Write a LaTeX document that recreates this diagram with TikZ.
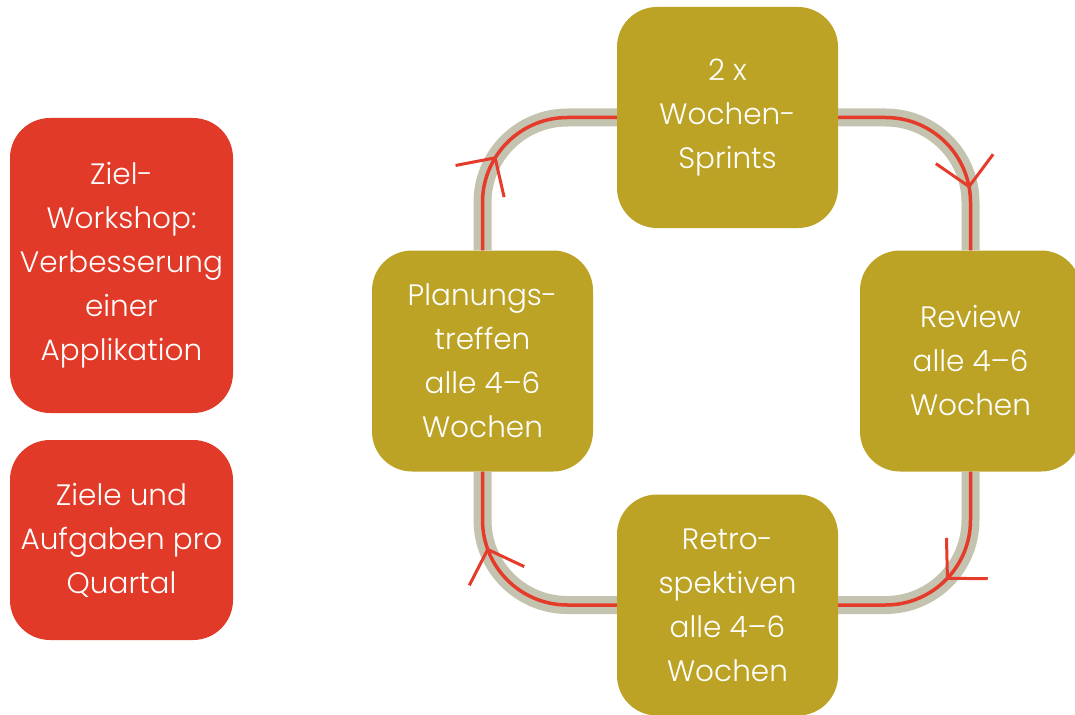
\documentclass[tikz,border=0pt]{standalone}
\usepackage{fontspec}
\setmainfont{Poppins Light}
\usepackage{tikz}
\usetikzlibrary{arrows.meta, decorations.markings}
\definecolor{GoalRed}{RGB}{226,58,40}
\definecolor{Olive}{RGB}{188,163,38}
\definecolor{TrackGrey}{RGB}{196,195,176}
\definecolor{LineRed}{RGB}{229,59,42}

\begin{document}
\begin{tikzpicture}[
  x=1pt, y=-1pt,
  font=\fontsize{29.5}{44}\selectfont,
  box/.style={rounded corners=40pt, draw=none, text=white, align=center, inner sep=0pt},
  goal/.style={box, fill=GoalRed, minimum width=223pt},
  stage/.style={box, fill=Olive, minimum width=221pt, minimum height=221pt},
  track/.style={draw=TrackGrey, line width=18pt, rounded corners=85pt},
  flow/.style={draw=LineRed, line width=3.5pt, rounded corners=85pt, postaction={decorate},
    decoration={markings, mark=at position #1 with
      {\arrow{Straight Barb[length=28pt, width=58pt, line width=3pt]}}}},
]
% Canvas: 1075 x 714, y grows downwards
\useasboundingbox (0,0) rectangle (1075,714);
\clip (0,0) rectangle (1075,714);

% Goals (left column)
\node[goal, minimum height=295pt] (ziel) at (121.5,265.5)
  {Ziel-\\Workshop:\\Verbesserung\\einer\\Applikation};
\node[goal, minimum height=200pt] (quartal) at (121.5,540)
  {Ziele und\\Aufgaben pro\\Quartal};

% Cycle stages
\node[stage] (sprint) at (727.5,117.5) {2 x\\Wochen-\\Sprints};
\node[stage] (review) at (970.5,361)   {Review\\alle 4--6\\Wochen};
\node[stage] (retro)  at (727.5,605)   {Retro-\\spektiven\\alle 4--6\\Wochen};
\node[stage] (plan)   at (482.5,361)   {Planungs-\\treffen\\alle 4--6\\Wochen};

% Grey track under the loop
\draw[track] (plan.north) |- (sprint.west);
\draw[track] (sprint.east) -| (review.north);
\draw[track] (review.south) |- (retro.east);
\draw[track] (retro.west) -| (plan.south);

% Red loop line with arrows
\draw[flow=0.42] (plan.north) |- (sprint.west);
\draw[flow=0.73] (sprint.east) -| (review.north);
\draw[flow=0.50] (review.south) |- (retro.east);
\draw[flow=0.67] (retro.west) -| (plan.south);

\end{tikzpicture}
\end{document}
